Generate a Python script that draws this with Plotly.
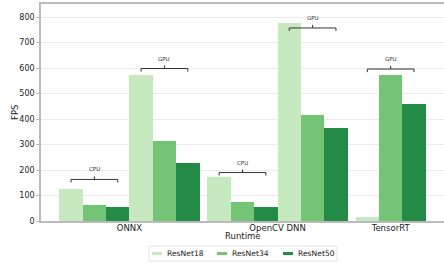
import plotly.graph_objects as go

# ---- data ----
runtimes = ["ONNX", "OpenCV DNN", "TensorRT"]
group_runtime = ["ONNX", "ONNX", "OpenCV DNN", "OpenCV DNN", "TensorRT"]
group_device = ["CPU", "GPU", "CPU", "GPU", "GPU"]
models = ["ResNet18", "ResNet34", "ResNet50"]
resnet18 = [124, 571, 171, 778, 17]
resnet34 = [61, 313, 74, 415, 571]
resnet50 = [56, 226, 53, 366, 457]
bracket_levels = [163, 598, 190, 757, 596]
y_ticks = [0, 100, 200, 300, 400, 500, 600, 700, 800]

# ---- style ----
colors = ["#c7e9c0", "#74c476", "#238b45"]
BAR_W = 1.0
GAP = 0.34
FONT = "DejaVu Sans"
W, H = 444, 266
ML, MR, MT, MB = 41, 0, 4, 45

# positions
centers = []  # per group list of 3 centers
pos = 0.0
prev = None
for rt in group_runtime:
    if prev is not None and rt != prev:
        pos += GAP
    centers.append([pos + 0.5 + i for i in range(3)])
    pos += 3
    prev = rt
data_max = pos

rt_ticks = []
for rt in runtimes:
    cs = [c for g, r in zip(centers, group_runtime) if r == rt for c in g]
    rt_ticks.append(sum(cs) / len(cs))

series = [resnet18, resnet34, resnet50]
fig = go.Figure()
for mi, (name, vals) in enumerate(zip(models, series)):
    fig.add_trace(go.Bar(
        x=[centers[g][mi] for g in range(len(group_runtime))],
        y=vals, width=BAR_W, name=name,
        marker=dict(color=colors[mi], line=dict(width=0)),
        showlegend=False,
    ))

margin_x = 0.05 * data_max
x_range = [-margin_x, data_max + margin_x]
y_range = [0, 851]

shapes = []
annotations = []
d = 12
for g, lvl in enumerate(bracket_levels):
    x1, xm, x2 = centers[g][0], centers[g][1], centers[g][2]
    path = (f"M {x1},{lvl - d} L {x1},{lvl} L {x2},{lvl} L {x2},{lvl - d} "
            f"M {xm},{lvl} L {xm},{lvl + d}")
    shapes.append(dict(type="path", path=path, xref="x", yref="y",
                       line=dict(color="#333333", width=1)))
    annotations.append(dict(x=xm, y=lvl, xref="x", yref="y", text=group_device[g],
                            showarrow=False, yshift=10,
                            font=dict(family=FONT, size=5.5, color="#333333")))

# pixel -> paper helpers
pw = W - ML - MR
ph = H - MT - MB
def px(x):
    return (x - ML) / pw
def py(y):
    return (H - MB - y) / ph

# axis titles
annotations.append(dict(x=px(243), y=py(236), xref="paper", yref="paper", text="Runtime",
                        xanchor="center", yanchor="middle",
                        showarrow=False, font=dict(family=FONT, size=8.5, color="#222")))
annotations.append(dict(x=px(15), y=py(113), xref="paper", yref="paper", text="FPS",
                        xanchor="center", yanchor="middle",
                        showarrow=False, textangle=-90,
                        font=dict(family=FONT, size=8.5, color="#222")))

# legend (manual)
shapes.append(dict(type="rect", xref="paper", yref="paper",
                   x0=px(149), x1=px(337), y0=py(261), y1=py(246),
                   line=dict(color="#dddddd", width=0.8), fillcolor="white"))
leg_patch_x = [152, 217, 283]
for i, name in enumerate(models):
    shapes.append(dict(type="line", xref="paper", yref="paper",
                       x0=px(leg_patch_x[i]), x1=px(leg_patch_x[i] + 10),
                       y0=py(253.5), y1=py(253.5),
                       line=dict(color=colors[i], width=3)))
    annotations.append(dict(x=px(leg_patch_x[i] + 13), y=py(253.5), xref="paper", yref="paper",
                            text=name, showarrow=False, xanchor="left", yanchor="middle",
                            font=dict(family=FONT, size=7.6, color="#222")))

fig.update_layout(
    width=W, height=H,
    margin=dict(l=ML, r=MR, t=MT, b=MB, pad=0),
    paper_bgcolor="white", plot_bgcolor="white",
    barmode="overlay", bargap=0,
    shapes=shapes, annotations=annotations,
    font=dict(family=FONT, size=8, color="#222"),
    xaxis=dict(range=x_range, tickmode="array", tickvals=rt_ticks, ticktext=runtimes,
               showgrid=False, zeroline=False, showline=True, linecolor="#bbbbbb",
               linewidth=1.5, mirror=True, ticks="", ticklabelstandoff=-2,
               tickfont=dict(size=8.5, family=FONT)),
    yaxis=dict(range=y_range, tickmode="array", tickvals=y_ticks,
               showgrid=True, gridcolor="#ebebeb", gridwidth=0.8, zeroline=False,
               showline=True, linecolor="#bbbbbb", linewidth=1.5, mirror=False,
               ticks="outside", ticklen=3, tickcolor="#bbbbbb",
               tickfont=dict(size=8, family=FONT)),
)

fig.write_html("out.html", config={"displayModeBar": False},
               post_script="document.body.style.margin='0';")
